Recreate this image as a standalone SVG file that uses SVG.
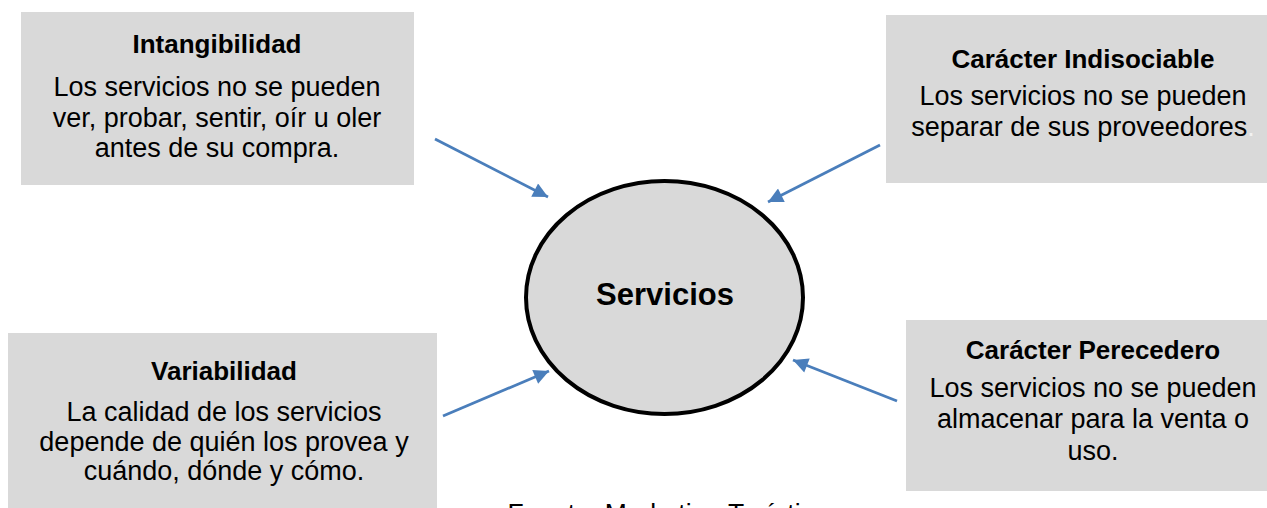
<svg xmlns="http://www.w3.org/2000/svg" width="1267" height="508" viewBox="0 0 1267 508">
  <style>
    .box { fill: #d9d9d9; }
    .title { font-family: "Liberation Sans", Arial, sans-serif; font-weight: bold; font-size: 26px; fill: #000; text-anchor: middle; }
    .body { font-family: "Liberation Sans", Arial, sans-serif; font-size: 27px; fill: #000; text-anchor: middle; }
    .faint { fill: #f2f2f2; }
    .center { fill: #d9d9d9; stroke: #000; stroke-width: 4; }
    .center-label { font-family: "Liberation Sans", Arial, sans-serif; font-weight: bold; font-size: 31px; fill: #000; text-anchor: middle; }
    .arrow { stroke: #4a7ebb; stroke-width: 2.8; fill: none; marker-end: url(#head); }
    .caption { font-family: "Liberation Sans", Arial, sans-serif; font-size: 26.5px; fill: #000; text-anchor: middle; }
  </style>
  <defs>
    <marker id="head" viewBox="0 0 10 10" refX="10" refY="5" markerWidth="18" markerHeight="15" markerUnits="userSpaceOnUse" orient="auto">
      <path d="M0,0 L10,5 L0,10 z" fill="#4a7ebb"/>
    </marker>
  </defs>

  <rect width="1267" height="508" fill="#ffffff"/>

  <g id="intangibilidad">
    <rect class="box" x="21" y="12" width="393" height="173"/>
    <text class="title" x="217" y="53">Intangibilidad</text>
    <text class="body" x="217" y="96">Los servicios no se pueden</text>
    <text class="body" x="217" y="126.5">ver, probar, sentir, oír u oler</text>
    <text class="body" x="217" y="157">antes de su compra.</text>
  </g>

  <g id="indisociable">
    <rect class="box" x="886" y="15" width="381" height="168"/>
    <text class="title" x="1083" y="68">Carácter Indisociable</text>
    <text class="body" x="1083" y="105">Los servicios no se pueden</text>
    <text class="body" x="1083" y="136">separar de sus proveedores<tspan class="faint">.</tspan></text>
  </g>

  <g id="variabilidad">
    <rect class="box" x="8" y="333" width="429" height="175"/>
    <text class="title" x="224" y="380">Variabilidad</text>
    <text class="body" x="224" y="421">La calidad de los servicios</text>
    <text class="body" x="224" y="451">depende de quién los provea y</text>
    <text class="body" x="224" y="480">cuándo, dónde y cómo.</text>
  </g>

  <g id="perecedero">
    <rect class="box" x="906" y="320" width="361" height="171"/>
    <text class="title" x="1093" y="359">Carácter Perecedero</text>
    <text class="body" x="1093" y="397">Los servicios no se pueden</text>
    <text class="body" x="1093" y="428">almacenar para la venta o</text>
    <text class="body" x="1093" y="460">uso.</text>
  </g>

  <g id="servicios">
    <ellipse class="center" cx="664.5" cy="297.5" rx="138.5" ry="116.5"/>
    <text class="center-label" x="665" y="305">Servicios</text>
  </g>

  <g id="connectors">
    <line class="arrow" x1="435" y1="139" x2="548" y2="197"/>
    <line class="arrow" x1="880" y1="145" x2="768" y2="202"/>
    <line class="arrow" x1="443" y1="416" x2="549" y2="371"/>
    <line class="arrow" x1="897" y1="401" x2="793" y2="360"/>
  </g>

  <!-- source line, partly below the bottom edge -->
  <text class="caption" x="668" y="522">Fuente: Marketing Turístico</text>
</svg>
